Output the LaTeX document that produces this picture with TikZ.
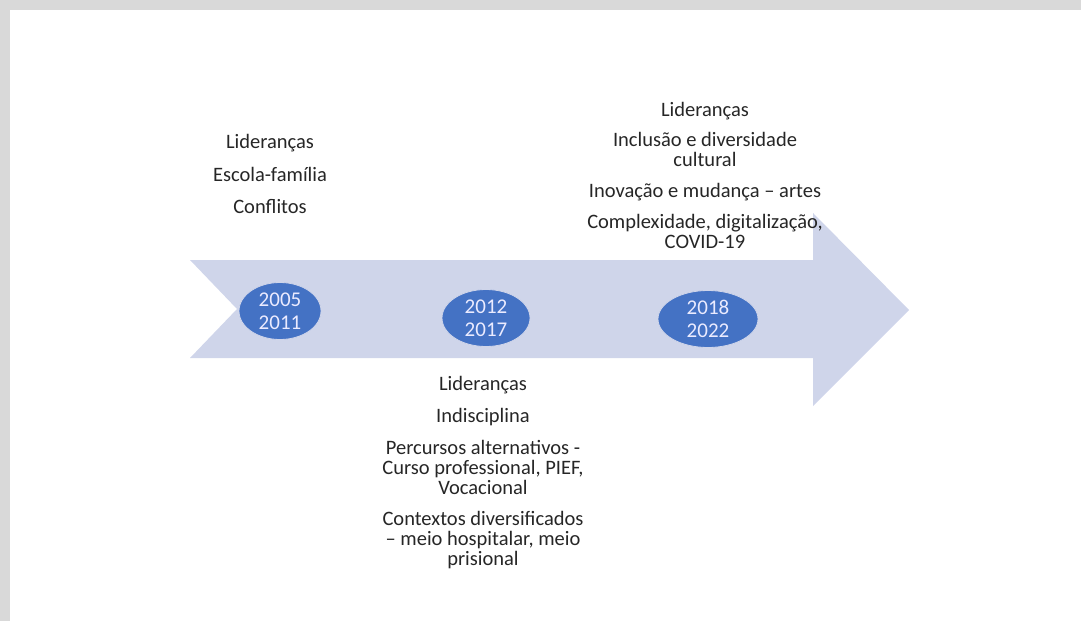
\documentclass[tikz,border=0pt]{standalone}
\usepackage{fontspec}
\setmainfont{Carlito}
\usetikzlibrary{shapes.geometric}
\definecolor{arrowblue}{RGB}{207,213,234}
\definecolor{yearblue}{RGB}{68,114,196}
\definecolor{framegray}{RGB}{217,217,217}
\tikzset{
  year/.style={ellipse, fill=yearblue, draw=arrowblue, thick, minimum width=#1, minimum height=57pt, inner sep=0pt, text=white!92!blue, align=center, font=\fontsize{21}{23}\selectfont},
  topic/.style={align=center, text=black!85, font=\fontsize{20.5}{20}\selectfont}
}
\begin{document}
\begin{tikzpicture}[x=1pt, y=-1pt]
\useasboundingbox (0,0) rectangle (1081,621);
\fill[framegray] (0,0) rectangle (1081,10);
\fill[framegray] (0,0) rectangle (10,621);
\fill[arrowblue] (190,260) -- (813,260) -- (813,213) -- (909,310) -- (813,406) -- (813,358) -- (190,358) -- (237,309) -- cycle;
\node[year=82pt] (y05) at (280,311) {2005\\2011};
\node[year=88pt] (y12) at (486,318) {2012\\2017};
\node[year=100pt] (y18) at (708,319) {2018\\2022};
\node[topic] (t05) at (270,174) {Lideranças\\[13pt]Escola-família\\[12pt]Conflitos};
\node[topic] (t18) at (705,175) {Lideranças\\[10pt]Inclusão e diversidade\\cultural\\[11pt]Inovação e mudança -- artes\\[11pt]Complexidade, digitalização,\\COVID-19};
\node[topic] (t12) at (483,473) {Lideranças\\[12pt]Indisciplina\\[12pt]Percursos alternativos -\\Curso professional, PIEF,\\Vocacional\\[11pt]Contextos diversificados\\-- meio hospitalar, meio\\prisional};
\end{tikzpicture}
\end{document}
